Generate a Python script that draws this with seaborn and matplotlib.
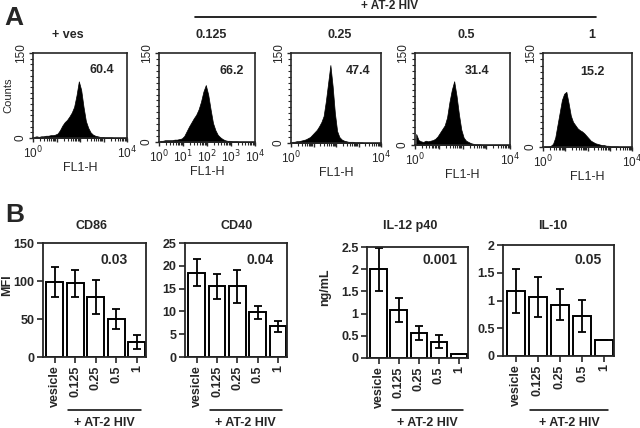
import numpy as np
import pandas as pd
import matplotlib
matplotlib.use("Agg")
import matplotlib.pyplot as plt
import seaborn as sns
from matplotlib import transforms
from matplotlib.ticker import FixedLocator, MultipleLocator, FuncFormatter

sns.set_style("ticks")
plt.rcParams["font.family"] = ["Liberation Sans", "DejaVu Sans"]

##### DATA

### Panel A: flow histograms, counts per log10 bin (0-4, 40 bins)
hist_titles = ["+ ves", "0.125", "0.25", "0.5", "1"]
hist_pcts = ["60.4", "66.2", "47.4", "31.4", "15.2"]
counts_ves = [2, 3, 2, 3, 3, 4, 4, 5, 5, 6, 8, 14, 22, 28, 32, 38, 45, 55, 75, 100,
              85, 55, 30, 18, 10, 6, 4, 3, 2, 2, 1, 1, 1, 1, 0, 0, 0, 0, 0, 0]
counts_0125 = [2, 2, 3, 3, 3, 3, 4, 4, 5, 6, 10, 18, 26, 33, 40, 46, 55, 68, 85, 96,
               80, 55, 32, 20, 12, 8, 5, 3, 2, 2, 1, 1, 1, 0, 0, 0, 0, 0, 0, 0]
counts_025 = [2, 2, 3, 3, 4, 5, 6, 8, 10, 14, 18, 22, 28, 35, 45, 70, 100, 130, 95, 50,
              20, 10, 6, 4, 3, 2, 2, 2, 1, 1, 1, 1, 0, 0, 0, 0, 0, 0, 0, 0]
counts_05 = [18, 8, 6, 5, 7, 6, 7, 8, 10, 14, 20, 26, 32, 45, 70, 90, 104, 80, 50, 25,
             12, 7, 5, 3, 2, 1, 1, 1, 0, 0, 0, 0, 0, 0, 0, 0, 0, 0, 0, 0]
counts_1 = [1, 1, 1, 2, 5, 15, 35, 55, 75, 85, 88, 70, 50, 40, 35, 30, 27, 25, 22, 18,
            14, 10, 8, 6, 5, 4, 3, 3, 2, 2, 1, 1, 1, 1, 0, 0, 0, 0, 0, 0]
hist_counts = [counts_ves, counts_0125, counts_025, counts_05, counts_1]

### Panel B: bar charts (mean, error)
bar_cats = ["vesicle", "0.125", "0.25", "0.5", "1"]
cd86_mean = [99, 97, 79, 50, 20]
cd86_err = [20, 18, 22, 13, 9]
cd40_mean = [18.5, 15.5, 15.5, 9.8, 6.7]
cd40_err = [2.9, 2.8, 3.6, 1.4, 1.3]
il12_mean = [2.0, 1.08, 0.56, 0.37, 0.09]
il12_err = [0.48, 0.27, 0.16, 0.14, 0]
il10_mean = [1.17, 1.07, 0.92, 0.72, 0.28]
il10_err = [0.39, 0.36, 0.28, 0.29, 0]
bar_titles = ["CD86", "CD40", "IL-12 p40", "IL-10"]
bar_pvals = ["0.03", "0.04", "0.001", "0.05"]


W, H = 640, 428
fig = plt.figure(figsize=(6.4, 4.28), dpi=100)


def px_axes(x0, y0, x1, y1):
    #pixel box (top-left origin) -> figure axes
    return fig.add_axes([x0 / W, 1 - y1 / H, (x1 - x0) / W, (y1 - y0) / H])


def ftext(x, y, s, **kw):
    fig.text(x / W, 1 - y / H, s, ha="center", va="center", **kw)


##### PANEL A
ftext(14, 18, "A", fontsize=19, fontweight="bold")
fig.add_artist(plt.Line2D([195 / W, 596 / W], [1 - 17 / H, 1 - 17 / H], color="black", lw=1.2))
ftext(390, 6, "+ AT-2 HIV", fontsize=8.5, fontweight="bold")

hist_boxes = [(33, 53, 127, 138), (159, 53, 255, 142), (291, 53, 381, 143),
              (415, 53, 510, 145), (543, 53, 632, 147)]
pct_x = [0.73, 0.76, 0.74, 0.65, 0.56]
centers = np.arange(40) * 0.1 + 0.05
minor_log = [k + np.log10(m) for k in range(4) for m in range(2, 10)]

for i, box in enumerate(hist_boxes):
    ax = px_axes(*box)
    #histogram of log10(FL1-H) counts, solid black polygon
    hdf = pd.DataFrame({"logfl": centers, "count": np.asarray(hist_counts[i], dtype=float)})
    sns.histplot(data=hdf, x="logfl", weights="count", binwidth=0.1, binrange=(0, 4),
                 element="poly", fill=True, color="black", alpha=1, linewidth=0.5,
                 snap=False, ax=ax)
    ax.set_xlim(0, 4)
    ax.set_ylim(0, 150)
    ax.set_xticks([0, 1, 2, 3, 4])
    if i == 1:
        ax.set_xticklabels(["10$^{%d}$" % k for k in range(5)])
    else:
        ax.set_xticklabels(["10$^0$", "", "", "", "10$^4$"])
    ax.xaxis.set_minor_locator(FixedLocator(minor_log))
    ax.set_yticks([0, 150])
    ax.set_yticklabels(["0", "150"], rotation=90, va="center")
    ax.yaxis.set_minor_locator(MultipleLocator(10))
    ax.tick_params(labelsize=8.5, length=3, width=1, pad=1.5)
    ax.tick_params(which="minor", length=2, width=0.8)
    ax.set_xlabel("FL1-H", fontsize=9, labelpad=1)
    ax.set_ylabel("Counts" if i == 0 else "", fontsize=8, labelpad=1)
    for sp in ax.spines.values():
        sp.set_linewidth(1.2)
    ax.text(pct_x[i], 0.8, hist_pcts[i], transform=ax.transAxes, ha="center", va="center",
            fontsize=9, fontweight="bold")
    ftext((box[0] + box[2]) / 2 + (4 if i > 0 else -12), 35, hist_titles[i],
          fontsize=9, fontweight="bold")


##### PANEL B
ftext(15, 215, "B", fontsize=19, fontweight="bold")

bar_boxes = [(43, 243, 146, 357), (185, 243, 287, 357), (367, 247, 468, 358), (503, 245, 614, 356)]
bar_means = [cd86_mean, cd40_mean, il12_mean, il10_mean]
bar_errs = [cd86_err, cd40_err, il12_err, il10_err]
bar_ylims = [(150, 50), (25, 5), (2.5, 0.5), (2, 0.5)]
title_x = [92, 237, 410, 553]
pval_x = [114, 260, 440, 588]

for i, box in enumerate(bar_boxes):
    ax = px_axes(*box)
    bdf = pd.DataFrame({"dose": bar_cats, "val": bar_means[i]})
    sns.barplot(data=bdf, x="dose", y="val", color="white", edgecolor="black", linewidth=1.4,
                width=0.82, errorbar=None, ax=ax)
    xs = np.arange(len(bar_cats))
    ax.errorbar(xs, bar_means[i], yerr=bar_errs[i], fmt="none", ecolor="black",
                elinewidth=1.3, capsize=2.6, capthick=1.3)
    ax.set_xlim(-0.58, 4.45)
    top, step = bar_ylims[i]
    ax.set_ylim(0, top)
    ax.yaxis.set_major_locator(MultipleLocator(step))
    ax.yaxis.set_major_formatter(FuncFormatter(lambda v, p: "%g" % v))
    ax.tick_params(labelsize=9, length=4, width=1.2, pad=2)
    for lab in ax.get_xticklabels() + ax.get_yticklabels():
        lab.set_fontweight("bold")
    for lab in ax.get_xticklabels():
        lab.set_rotation(90)
    for sp in ax.spines.values():
        sp.set_linewidth(1.3)
    ax.set_xlabel("")
    ax.set_ylabel("")
    ftext(title_x[i], 226, bar_titles[i], fontsize=9, fontweight="bold")
    ftext(pval_x[i], 260, bar_pvals[i], fontsize=10, fontweight="bold")

    #group line and label under the AT-2 HIV doses
    tr = transforms.blended_transform_factory(ax.transData, fig.transFigure)
    ax.plot([0.65, 4.2], [1 - 410 / H] * 2, color="black", lw=1.1, transform=tr, clip_on=False)
    ax.text(2.42, 1 - 423 / H, "+ AT-2 HIV", transform=tr, ha="center", va="center",
            fontsize=9, fontweight="bold")

ftext(7, 285, "MFI", fontsize=9, fontweight="bold", rotation=90)
ftext(325, 287, "ng/mL", fontsize=9, fontweight="bold", rotation=90)

fig.savefig("out.png", dpi=100)
